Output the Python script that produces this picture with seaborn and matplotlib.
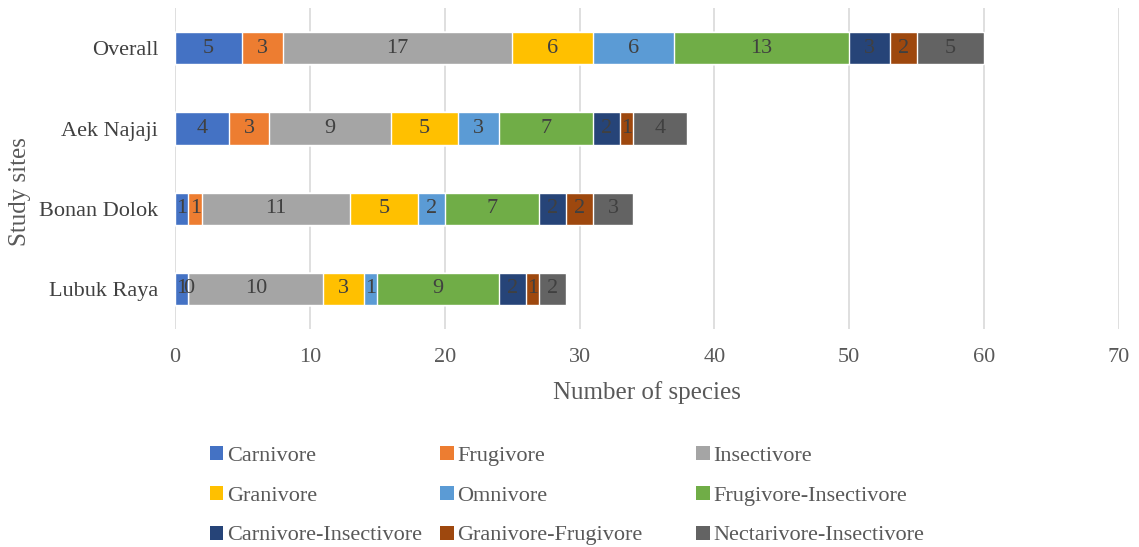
import numpy as np
import pandas as pd
import matplotlib
matplotlib.use("Agg")
import matplotlib.pyplot as plt
import seaborn as sns
from matplotlib.patches import Patch

sites = ["Overall", "Aek Najaji", "Bonan Dolok", "Lubuk Raya"]
guilds = ["Carnivore", "Frugivore", "Insectivore", "Granivore", "Omnivore",
          "Frugivore-Insectivore", "Carnivore-Insectivore", "Granivore-Frugivore",
          "Nectarivore-Insectivore"]
carnivore = [5, 4, 1, 1]
frugivore = [3, 3, 1, 0]
insectivore = [17, 9, 11, 10]
granivore = [6, 5, 5, 3]
omnivore = [6, 3, 2, 1]
frug_insect = [13, 7, 7, 9]
carn_insect = [3, 2, 2, 2]
gran_frug = [2, 1, 2, 1]
nect_insect = [5, 4, 3, 2]
colors = ["#4472C4", "#ED7D31", "#A5A5A5", "#FFC000", "#5B9BD5",
          "#70AD47", "#264478", "#9E480E", "#636363"]

values = np.array([carnivore, frugivore, insectivore, granivore, omnivore,
                   frug_insect, carn_insect, gran_frug, nect_insect], dtype=float)
cum = np.cumsum(values, axis=0)

sns.set_theme(style="white")
plt.rcParams["font.family"] = ["Liberation Serif", "DejaVu Serif"]

fig = plt.figure(figsize=(11.39, 5.47), dpi=100)
ax = fig.add_axes([0.1536, 0.3985, 0.8288, 0.5865])

# stacked bars: draw cumulative totals from the last guild back to the first
for i in range(len(guilds) - 1, -1, -1):
    df = pd.DataFrame({"site": sites, "total": cum[i]})
    sns.barplot(data=df, x="total", y="site", orient="h", color=colors[i],
                saturation=1, width=0.4, ax=ax, zorder=2)

# segment value labels
for i in range(len(guilds)):
    for j in range(len(sites)):
        v = values[i, j]
        ax.text(cum[i, j] - v / 2, j, f"{int(v)}", ha="center", va="center",
                fontsize=16, color="#404040", zorder=3)

ax.set_xlim(0, 70)
ax.set_xticks(range(0, 71, 10))
ax.set_ylim(3.5, -0.5)
ax.xaxis.grid(True, color="#D9D9D9", linewidth=1.2, zorder=0)
ax.set_axisbelow(True)
for s in ax.spines.values():
    s.set_visible(False)
ax.tick_params(axis="x", labelsize=16, colors="#595959", length=0, pad=14)
ax.tick_params(axis="y", labelsize=16, colors="#404040", length=0, pad=12)
ax.set_xlabel("Number of species", fontsize=18, color="#595959", labelpad=10)
ax.set_ylabel("Study sites", fontsize=18, color="#595959")
ax.yaxis.set_label_coords(-0.153, 0.43)

# legend laid out as three equal columns, filled row by row
col_x = [0.1845, 0.3865, 0.6115]
for c in range(3):
    idx = [r * 3 + c for r in range(3)]
    handles = [Patch(facecolor=colors[k], edgecolor="none") for k in idx]
    fig.legend(handles, [guilds[k] for k in idx], loc="upper left",
               bbox_to_anchor=(col_x[c], 0.185), frameon=False,
               fontsize=16, handlelength=0.6, handleheight=0.6,
               handletextpad=0.15, labelspacing=0.9, borderaxespad=0,
               borderpad=0, labelcolor="#595959")

fig.savefig("out.png", dpi=100)
